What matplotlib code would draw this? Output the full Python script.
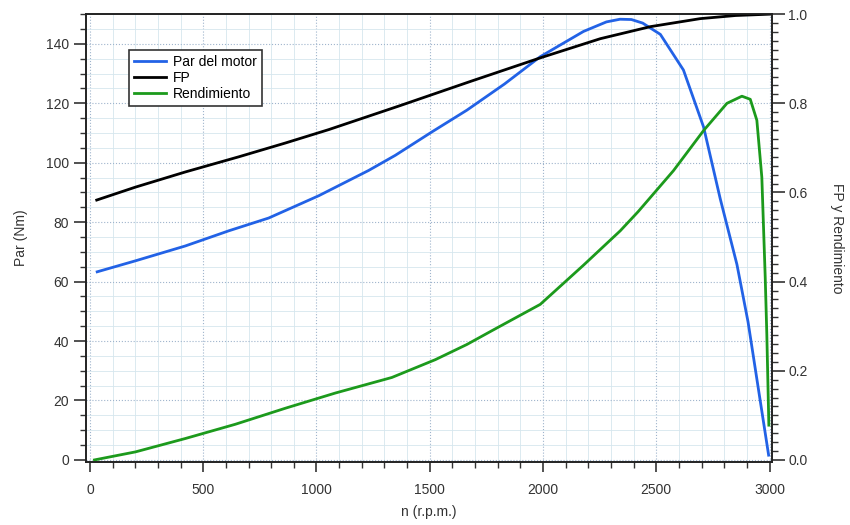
import matplotlib.pyplot as plt
from matplotlib.ticker import MultipleLocator

plt.rcParams['font.family'] = ['Liberation Sans', 'DejaVu Sans']

# motor torque (left axis, Nm)
n_par = [32, 201, 421, 613, 789, 1010, 1230, 1348, 1510, 1664, 1830, 1988,
         2179, 2280, 2340, 2390, 2440, 2518, 2620, 2709, 2782, 2856, 2905,
         2996]
par = [63.3, 67.0, 72.0, 77.1, 81.4, 88.9, 97.4, 102.5, 110.4, 117.7,
       126.5, 135.7, 144.2, 147.4, 148.3, 148.2, 147.0, 143.2, 131.2, 112.0,
       88.0, 65.8, 46.5, 1.6]

# power factor (right axis)
n_fp = [30, 201, 421, 657, 863, 1054, 1370, 1679, 1988, 2253, 2474, 2694,
        2850, 3000]
fp = [0.583, 0.612, 0.646, 0.680, 0.711, 0.741, 0.795, 0.849, 0.902,
      0.945, 0.972, 0.990, 0.997, 1.0]

# efficiency (right axis)
n_rend = [20, 201, 421, 642, 863, 1083, 1333, 1525, 1664, 1782, 1988, 2179,
          2341, 2420, 2576, 2709, 2812, 2878, 2915, 2944, 2966, 2981, 2988,
          2997]
rend = [0.0, 0.018, 0.048, 0.080, 0.116, 0.150, 0.185, 0.225, 0.259, 0.292,
        0.349, 0.437, 0.514, 0.557, 0.649, 0.739, 0.800, 0.816, 0.809, 0.762,
        0.634, 0.409, 0.282, 0.078]

fig = plt.figure(figsize=(8.5, 5.25), dpi=100)
ax = fig.add_axes([0.101, 0.12, 0.807, 0.853])
ax2 = ax.twinx()

l1, = ax.plot(n_par, par, color='#2262e6', lw=2)
l2, = ax2.plot(n_fp, fp, color='black', lw=2)
l3, = ax2.plot(n_rend, rend, color='#1c9a1c', lw=2)

ax.set_xlim(-18, 3010)
ax.set_ylim(-0.7, 150)
ax2.set_ylim(-0.7 / 150, 1.0)

ax.xaxis.set_major_locator(MultipleLocator(500))
ax.xaxis.set_minor_locator(MultipleLocator(100))
ax.yaxis.set_major_locator(MultipleLocator(20))
ax.yaxis.set_minor_locator(MultipleLocator(5))
ax2.yaxis.set_major_locator(MultipleLocator(0.2))
ax2.yaxis.set_minor_locator(MultipleLocator(0.02))

ax.grid(which='major', color='#9fb4cc', ls=':', lw=0.8)
ax.grid(which='minor', color='#d6e6ee', ls='-', lw=0.6)
ax.set_axisbelow(True)

for a in (ax, ax2):
    a.tick_params(which='both', labelsize=10, colors='#333333',
                  labelcolor='#333333', direction='out')
    a.tick_params(axis='y', which='major', length=9, width=1.2, pad=3)
    a.tick_params(axis='y', which='minor', length=4, width=1)
    for s in a.spines.values():
        s.set_linewidth(1.2)
        s.set_color('#222222')
ax.tick_params(axis='x', which='major', length=7, width=1.2, pad=8)
ax.tick_params(axis='x', which='minor', length=4, width=1)

ax.set_xlabel('n (r.p.m.)', fontsize=10, color='#333333', labelpad=6)
ax.set_ylabel('Par (Nm)', fontsize=10, color='#333333', labelpad=13)
ax2.set_ylabel('FP y Rendimiento', fontsize=10, color='#333333',
               rotation=270, labelpad=26)

leg = ax.legend([l1, l2, l3], ['Par del motor', 'FP', 'Rendimiento'],
                loc='upper left', bbox_to_anchor=(0.053, 0.936), fontsize=10,
                fancybox=False, handlelength=2.3, borderpad=0.35,
                labelspacing=0.15, handletextpad=0.5, framealpha=1)
leg.get_frame().set_edgecolor('#333333')
leg.get_frame().set_linewidth(1.2)
leg.set_zorder(10)

fig.savefig('out.png', dpi=100)
